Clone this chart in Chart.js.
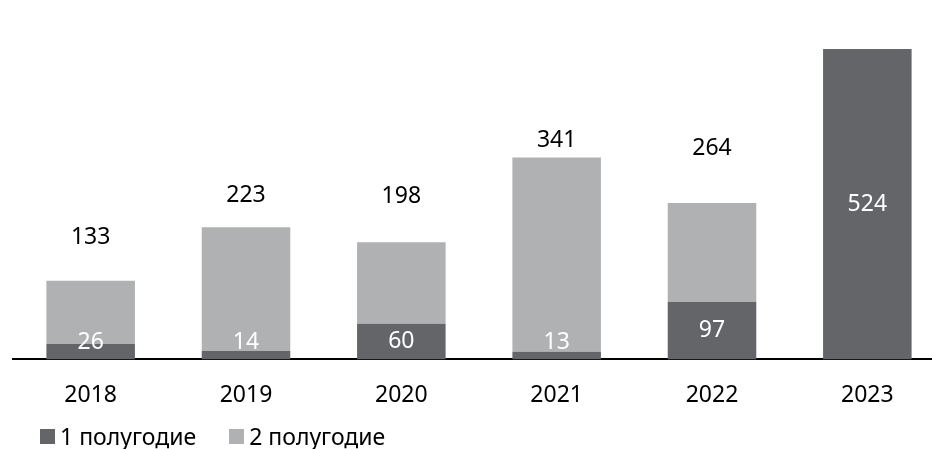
<!DOCTYPE html>
<html>
<head>
<meta charset="utf-8">
<script src="https://cdn.jsdelivr.net/npm/chart.js@4"></script>
<style>
  html, body { margin: 0; padding: 0; background: #fff; overflow: hidden; }
  #wrap { position: relative; width: 945px; height: 449px; }
  #legend { position: absolute; left: 40px; top: 421px; display: flex; font: 23px 'Noto Sans', sans-serif; color: #000; line-height: 31px; }
  #legend .item { display: flex; align-items: center; margin-right: 33px; }
  #legend .box { width: 15px; height: 15px; margin-right: 5px; }
</style>
</head>
<body>
<div id="wrap"><canvas id="chart"></canvas><div id="legend"></div></div>
<script>
const years = ["2018", "2019", "2020", "2021", "2022", "2023"];
const seriesNames = ["1 полугодие", "2 полугодие"];
const firstHalf = [26, 14, 60, 13, 97, 524];
const secondHalf = [107, 209, 138, 328, 167, 0];
const totals = [133, 223, 198, 341, 264, null];

const DARK = "#636569";
const LIGHT = "#b0b1b3";
const FONT = "'Noto Sans', sans-serif";
// how far each total label sits above its bar (px)
const totalLift = [43, 32, 46, 17, 55, 0];

const labelPlugin = {
  id: "barLabels",
  afterDatasetsDraw(chart) {
    const ctx = chart.ctx;
    const base = chart.scales.y.getPixelForValue(0);
    ctx.save();
    ctx.font = "23px " + FONT;
    ctx.textAlign = "center";
    ctx.textBaseline = "middle";

    // values of the first half, white, inside the dark bars
    const m0 = chart.getDatasetMeta(0);
    m0.data.forEach((bar, i) => {
      const mid = (bar.y + bar.base) / 2;
      const y = Math.min(mid, base - 17);
      ctx.fillStyle = "#ffffff";
      ctx.fillText(String(firstHalf[i]), bar.x, y);
    });

    // totals above the stacks
    const m1 = chart.getDatasetMeta(1);
    m1.data.forEach((bar, i) => {
      if (totals[i] == null) return;
      ctx.fillStyle = "#000000";
      ctx.fillText(String(totals[i]), bar.x, bar.y - totalLift[i]);
    });
    ctx.restore();
  }
};

const chart = new Chart(document.getElementById("chart"), {
  type: "bar",
  data: {
    labels: years,
    datasets: [
      { label: seriesNames[0], data: firstHalf, backgroundColor: DARK },
      { label: seriesNames[1], data: secondHalf, backgroundColor: LIGHT }
    ]
  },
  options: {
    responsive: true,
    maintainAspectRatio: false,
    animation: false,
    layout: { padding: { top: 10, left: 13, right: 0, bottom: 26 } },
    datasets: { bar: { barPercentage: 0.57, categoryPercentage: 1 } },
    plugins: {
      tooltip: { enabled: false },
      legend: { display: false }
    },
    scales: {
      x: {
        stacked: true,
        grid: { display: false },
        border: { display: true, color: "#000", width: 2 },
        ticks: { color: "#000", font: { family: FONT, size: 23 }, padding: 14 }
      },
      y: {
        stacked: true,
        display: false,
        min: 0,
        max: 590
      }
    }
  },
  plugins: [labelPlugin]
});

// html legend built from the chart's datasets
const legendEl = document.getElementById("legend");
chart.data.datasets.forEach(ds => {
  const item = document.createElement("div");
  item.className = "item";
  const box = document.createElement("span");
  box.className = "box";
  box.style.background = ds.backgroundColor;
  const txt = document.createElement("span");
  txt.textContent = ds.label;
  item.appendChild(box);
  item.appendChild(txt);
  legendEl.appendChild(item);
});
</script>
</body>
</html>
